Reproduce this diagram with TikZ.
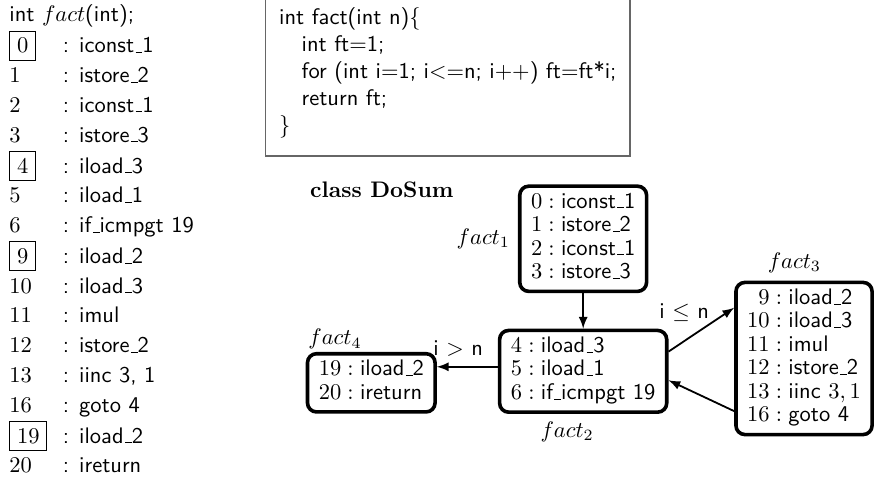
\documentclass[tikz,border=0pt]{standalone}
\usetikzlibrary{arrows,positioning}
\newcommand{\instr}[1]{\textsf{#1}}
\renewcommand{\_}{\leavevmode\kern.06em\vbox{\hrule width.3em}}
\tikzset{block/.style={draw, ultra thick, rounded corners=4pt,
    inner xsep=5pt, inner ysep=2.5pt,
    execute at begin node={\def\arraystretch{0.87}}}}
\begin{document}
\begin{tikzpicture}
\useasboundingbox (0,0) rectangle (13.70,-7.61);

%bytecode list
\node[anchor=north west, inner sep=0pt, execute at begin node={\def\arraystretch{1.1}}] (bytecode) at (0.14,-0.01) {%
\begin{tabular}{@{}l@{\hspace{7pt}}l@{}}
\multicolumn{2}{@{}l}{\instr{int} $fact$\instr{(int);}}\\
\fbox{$0$} & \instr{: iconst\_1}\\
$1$ & \instr{: istore\_2}\\
$2$ & \instr{: iconst\_1}\\
$3$ & \instr{: istore\_3}\\
\fbox{$4$} & \instr{: iload\_3}\\
$5$ & \instr{: iload\_1}\\
$6$ & \instr{: if\_icmpgt 19}\\
\fbox{$9$} & \instr{: iload\_2}\\
$10$ & \instr{: iload\_3}\\
$11$ & \instr{: imul}\\
$12$ & \instr{: istore\_2}\\
$13$ & \instr{: iinc 3, 1}\\
$16$ & \instr{: goto 4}\\
\fbox{$19$} & \instr{: iload\_2}\\
$20$ & \instr{: ireturn}
\end{tabular}};

%source code
\node[anchor=south west, draw=black!60, semithick, inner xsep=6pt, inner ysep=7pt] (source) at (4.14,-2.45) {%
\begin{tabular}{@{}l@{}}
\instr{int fact(int n)}$\{$\\
\hspace{1em}\instr{int ft}$=$\instr{1;}\\
\hspace{1em}\instr{for (int i}$=$\instr{1; i}$<=$\instr{n; i}$++$\instr{) ft}$=$\instr{ft*i;}\\
\hspace{1em}\instr{return ft;}\\
$\}$
\end{tabular}};

\node[anchor=base west] (title) at (4.72,-3.08) {\textbf{class DoSum}};

%blocks
\node[block, label={left:$fact_1$}] (fact1) at (9.11,-3.73) {%
\begin{tabular}{@{}r@{${}:{}$}l@{}}
$0$ & \instr{iconst\_1}\\
$1$ & \instr{istore\_2}\\
$2$ & \instr{iconst\_1}\\
$3$ & \instr{istore\_3}
\end{tabular}};
\node[block, label={[xshift=-0.25cm]below:$fact_2$}] (fact2) at (9.11,-5.80) {%
\begin{tabular}{@{}r@{${}:{}$}l@{}}
$4$ & \instr{iload\_3}\\
$5$ & \instr{iload\_1}\\
$6$ & \instr{if\_icmpgt 19}
\end{tabular}};
\node[block, label={[xshift=-0.15cm]above:$fact_3$}] (fact3) at (12.56,-5.60) {%
\begin{tabular}{@{}r@{${}:{}$}l@{}}
$9$ & \instr{iload\_2}\\
$10$ & \instr{iload\_3}\\
$11$ & \instr{imul}\\
$12$ & \instr{istore\_2}\\
$13$ & \instr{iinc} $3,1$\\
$16$ & \instr{goto 4}
\end{tabular}};
\node[block, label={[anchor=south west, inner sep=1pt]north west:$fact_4$}] (fact4) at (5.80,-5.98) {%
\begin{tabular}{@{}r@{${}:{}$}l@{}}
$19$ & \instr{iload\_2}\\
$20$ & \instr{ireturn}
\end{tabular}};

%control flow
\draw[-latex, thick] (fact1.south) -- (fact1.south |- fact2.north);
\draw[-latex, thick] ([yshift=2pt]fact2.west) -- ([yshift=2pt]fact2.west -| fact4.east)
    node[pos=0.65, above, yshift=1pt] {\instr{i} $>$ \instr{n}};
\draw[-latex, thick] (fact2.13) -- (fact3.144)
    node[midway, above left, xshift=0.25cm] {\instr{i} $\leq$ \instr{n}};
\draw[-latex, thick] (fact3.217) -- (fact2.354);
\end{tikzpicture}
\end{document}
